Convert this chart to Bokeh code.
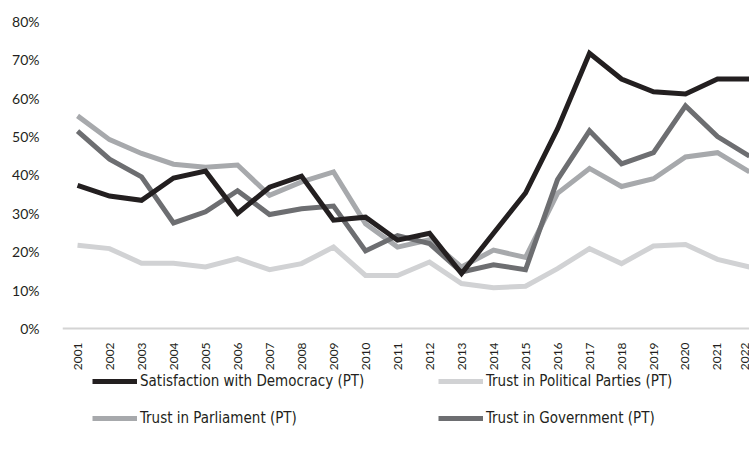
import numpy as np
from bokeh.plotting import figure
from bokeh.models import Legend, LegendItem, FixedTicker
from bokeh.embed import file_html
from bokeh.resources import INLINE

years = list(range(2001, 2023))
satisfaction = [37.3, 34.5, 33.4, 39.2, 41.0, 30.0, 36.8, 39.7, 28.2, 29.0, 23.0,
                24.8, 14.3, 24.8, 35.3, 52.0, 71.7, 65.0, 61.7, 61.1, 65.0, 65.0]
parties = [21.7, 20.8, 17.0, 17.0, 16.0, 18.2, 15.3, 16.9, 21.2, 13.8, 13.8,
           17.3, 11.7, 10.6, 11.0, 15.6, 20.8, 16.9, 21.5, 21.9, 18.0, 16.0]
parliament = [55.4, 49.2, 45.6, 42.8, 42.0, 42.6, 34.7, 38.2, 40.8, 27.3, 21.2,
              23.1, 16.0, 20.4, 18.5, 35.2, 41.7, 37.0, 39.0, 44.7, 45.8, 40.8]
government = [51.4, 44.1, 39.5, 27.5, 30.4, 35.9, 29.7, 31.2, 31.9, 20.2, 24.2,
              22.1, 14.7, 16.6, 15.3, 38.8, 51.5, 42.9, 45.8, 58.0, 50.0, 44.9]
y_ticks = [0, 10, 20, 30, 40, 50, 60, 70, 80]

series = {
    "sat": ("Satisfaction with Democracy (PT)", satisfaction, "#231f20"),
    "par": ("Trust in Political Parties (PT)", parties, "#d1d2d4"),
    "parl": ("Trust in Parliament (PT)", parliament, "#a7a9ac"),
    "gov": ("Trust in Government (PT)", government, "#6d6e71"),
}

p = figure(width=749, height=453, output_backend="svg", toolbar_location=None,
           x_range=(2000.53, 2022.0), y_range=(-32.6, 80),
           min_border_left=62, min_border_right=0, min_border_top=21,
           min_border_bottom=0)
p.outline_line_color = None
p.background_fill_color = "white"
p.border_fill_color = "white"
p.xgrid.grid_line_color = None
p.ygrid.grid_line_color = None

rend = {}
for key in ["par", "parl", "gov", "sat"]:
    name, vals, col = series[key]
    rend[key] = p.line(years, vals, line_color=col, line_width=5, line_join="miter")

tick_font = "Lato"
p.xaxis.fixed_location = 0
p.xaxis.ticker = FixedTicker(ticks=years)
p.xaxis.major_label_orientation = np.pi / 2
p.xaxis.major_tick_line_color = None
p.xaxis.minor_tick_line_color = None
p.xaxis.axis_line_color = "#d4d4d4"
p.xaxis.axis_line_width = 2
p.xaxis.major_label_text_font = tick_font
p.xaxis.major_label_text_font_size = "12px"
p.xaxis.major_label_text_color = "#231f20"
p.xaxis.major_label_standoff = 8

p.yaxis.ticker = FixedTicker(ticks=y_ticks)
p.yaxis.major_label_overrides = {t: f"{t}%" for t in y_ticks}
p.yaxis.axis_line_color = None
p.yaxis.major_tick_line_color = None
p.yaxis.minor_tick_line_color = None
p.yaxis.major_label_text_font = tick_font
p.yaxis.major_label_text_font_size = "14px"
p.yaxis.major_label_text_color = "#231f20"
p.yaxis.major_label_standoff = 17

order = ["sat", "parl", "par", "gov"]
items = [LegendItem(label=series[k][0], renderers=[rend[k]]) for k in order]
legend = Legend(items=items, ncols=2, location=(30, 25),
                label_text_font="DejaVu Sans Condensed",
                label_text_font_size="15px", label_text_color="#231f20",
                glyph_width=45, glyph_height=20, label_height=20,
                label_width=281, label_standoff=3, spacing=17,
                padding=0, margin=0, border_line_color=None,
                background_fill_alpha=0)
p.add_layout(legend, "center")

open("out.html", "w").write(file_html(p, INLINE))
